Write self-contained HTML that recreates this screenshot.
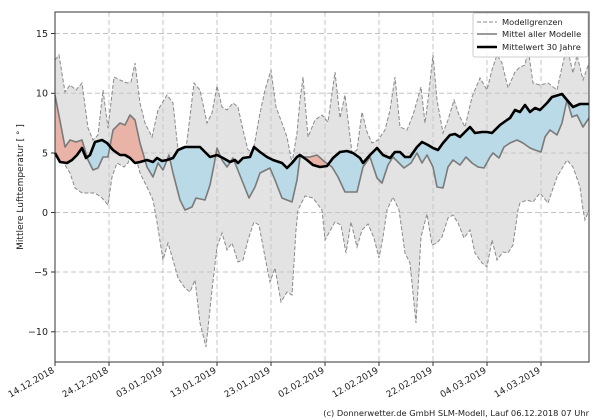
<!DOCTYPE html>
<html><head><meta charset="utf-8"><style>
body{margin:0;background:#fff;}
svg{display:block;font-family:"DejaVu Sans","Liberation Sans",sans-serif;}
</style></head><body>
<svg width="600" height="420" viewBox="0 0 600 420" xmlns="http://www.w3.org/2000/svg">
<defs>
<clipPath id="plot"><rect x="55" y="12" width="534" height="350"/></clipPath>
<clipPath id="above"><polygon points="55,0 55,153 60,162 67,163 72,160 77,155 82,148 86,158 90,155 95,142 102,140 107,143 113,150 120,155 125,155 130,158 135,163 140,162 147,160 153,162 157,158 162,161 167,160 173,158 178,150 185,147 200,147 205,152 210,157 217,155 223,158 230,162 235,160 238,163 243,158 250,157 254,147 260,152 267,157 273,160 282,163 287,168 292,163 297,157 300,155 307,160 313,165 320,167 327,166 333,158 340,152 347,151 353,153 360,158 363,163 370,155 377,148 383,155 390,158 395,152 400,152 405,157 410,157 417,147 422,142 428,145 433,148 438,150 443,143 450,135 455,134 460,137 465,132 470,127 475,133 482,132 487,132 492,133 500,125 507,120 510,118 515,110 520,112 525,105 530,112 535,108 540,110 547,103 552,97 562,94 567,100 573,107 580,104 589,104 589,0"/></clipPath>
<clipPath id="below"><polygon points="55,420 55,153 60,162 67,163 72,160 77,155 82,148 86,158 90,155 95,142 102,140 107,143 113,150 120,155 125,155 130,158 135,163 140,162 147,160 153,162 157,158 162,161 167,160 173,158 178,150 185,147 200,147 205,152 210,157 217,155 223,158 230,162 235,160 238,163 243,158 250,157 254,147 260,152 267,157 273,160 282,163 287,168 292,163 297,157 300,155 307,160 313,165 320,167 327,166 333,158 340,152 347,151 353,153 360,158 363,163 370,155 377,148 383,155 390,158 395,152 400,152 405,157 410,157 417,147 422,142 428,145 433,148 438,150 443,143 450,135 455,134 460,137 465,132 470,127 475,133 482,132 487,132 492,133 500,125 507,120 510,118 515,110 520,112 525,105 530,112 535,108 540,110 547,103 552,97 562,94 567,100 573,107 580,104 589,104 589,420"/></clipPath>
</defs>

<g clip-path="url(#plot)">
<polygon fill="#e3e3e3" stroke="none" points="55,60 59,55 65,92 70,85 76,90 82,83 88,128 93,140 98,135 103,90 108,128 114,77 120,80 127,83 131,82 135,63 140,103 145,123 152,137 158,110 167,95 173,103 178,150 183,170 188,133 194,83 200,90 207,123 212,113 217,86 222,107 227,110 233,103 238,107 243,130 248,150 253,152 260,113 265,90 271,70 276,107 282,123 287,137 292,163 297,133 300,100 303,77 308,137 315,120 322,115 328,122 335,72 340,118 345,95 352,153 357,150 362,112 367,132 372,143 378,140 385,130 390,110 395,77 400,127 407,130 413,115 421,87 425,123 428,100 433,55 437,100 443,133 448,120 454,100 459,115 465,127 472,97 480,78 487,90 492,70 497,55 502,63 508,88 515,72 520,67 525,65 528,48 533,83 540,85 548,83 557,90 562,67 567,47 573,73 577,55 583,80 589,63
589,210 585,220 583,210 580,187 573,167 567,160 557,177 548,203 540,193 533,202 527,200 520,203 518,210 513,245 508,253 503,252 497,260 492,240 487,267 482,263 475,253 470,230 464,238 458,223 453,215 448,218 442,237 437,243 432,245 427,214 421,237 416,323 410,263 405,253 399,210 393,197 387,210 383,237 379,258 374,238 368,224 362,230 357,247 351,222 346,253 341,225 335,222 325,240 322,210 313,198 305,196 298,210 296,230 292,295 287,292 281,302 275,268 270,282 265,257 259,225 254,222 248,240 243,260 238,262 232,243 227,250 222,233 217,247 212,290 206,347 200,323 195,280 190,292 185,288 178,278 173,260 168,243 163,260 157,222 153,200 147,187 140,173 133,147 128,163 124,167 117,163 112,177 108,205 102,198 95,193 88,193 82,193 75,188 70,173 65,165 60,140 55,100"/>
</g>
<g stroke="#c4c4c4" stroke-width="1" stroke-dasharray="5,3" fill="none">
<line x1="55" y1="33.5" x2="589" y2="33.5"/><line x1="55" y1="93.3" x2="589" y2="93.3"/><line x1="55" y1="153" x2="589" y2="153"/><line x1="55" y1="212.5" x2="589" y2="212.5"/><line x1="55" y1="272" x2="589" y2="272"/><line x1="55" y1="331.8" x2="589" y2="331.8"/>
<line x1="109" y1="12" x2="109" y2="362"/><line x1="163" y1="12" x2="163" y2="362"/><line x1="217" y1="12" x2="217" y2="362"/><line x1="271" y1="12" x2="271" y2="362"/><line x1="325" y1="12" x2="325" y2="362"/><line x1="379" y1="12" x2="379" y2="362"/><line x1="433" y1="12" x2="433" y2="362"/><line x1="487" y1="12" x2="487" y2="362"/><line x1="541" y1="12" x2="541" y2="362"/>
</g>
<g clip-path="url(#plot)">
<polyline fill="none" stroke="#8a8a8a" stroke-width="1" stroke-dasharray="4,2" points="55,60 59,55 65,92 70,85 76,90 82,83 88,128 93,140 98,135 103,90 108,128 114,77 120,80 127,83 131,82 135,63 140,103 145,123 152,137 158,110 167,95 173,103 178,150 183,170 188,133 194,83 200,90 207,123 212,113 217,86 222,107 227,110 233,103 238,107 243,130 248,150 253,152 260,113 265,90 271,70 276,107 282,123 287,137 292,163 297,133 300,100 303,77 308,137 315,120 322,115 328,122 335,72 340,118 345,95 352,153 357,150 362,112 367,132 372,143 378,140 385,130 390,110 395,77 400,127 407,130 413,115 421,87 425,123 428,100 433,55 437,100 443,133 448,120 454,100 459,115 465,127 472,97 480,78 487,90 492,70 497,55 502,63 508,88 515,72 520,67 525,65 528,48 533,83 540,85 548,83 557,90 562,67 567,47 573,73 577,55 583,80 589,63"/>
<polyline fill="none" stroke="#8a8a8a" stroke-width="1" stroke-dasharray="4,2" points="55,100 60,140 65,165 70,173 75,188 82,193 88,193 95,193 102,198 108,205 112,177 117,163 124,167 128,163 133,147 140,173 147,187 153,200 157,222 163,260 168,243 173,260 178,278 185,288 190,292 195,280 200,323 206,347 212,290 217,247 222,233 227,250 232,243 238,262 243,260 248,240 254,222 259,225 265,257 270,282 275,268 281,302 287,292 292,295 296,230 298,210 305,196 313,198 322,210 325,240 335,222 341,225 346,253 351,222 357,247 362,230 368,224 374,238 379,258 383,237 387,210 393,197 399,210 405,253 410,263 416,323 421,237 427,214 432,245 437,243 442,237 448,218 453,215 458,223 464,238 470,230 475,253 482,263 487,267 492,240 497,260 503,252 508,253 513,245 518,210 520,203 527,200 533,202 540,193 548,203 557,177 567,160 573,167 580,187 583,210 585,220 589,210"/>
</g>
<g>
<polygon clip-path="url(#above)" fill="#e9b3a7" stroke="none" points="55,95 65,147 70,140 76,142 82,140 88,160 93,170 98,168 103,157 108,157 113,130 120,123 125,125 130,115 135,120 140,143 147,167 153,177 158,163 163,170 169,155 173,173 180,200 185,210 192,207 196,198 205,200 210,185 214,165 217,148 222,160 227,167 233,158 237,168 243,183 249,198 255,187 260,173 270,168 275,180 282,198 287,200 292,202 297,180 300,157 310,157 317,155 325,162 332,167 338,177 345,192 352,192 357,192 363,167 370,157 377,178 382,183 388,165 393,157 399,163 404,168 411,163 417,153 422,163 427,155 433,167 437,187 443,188 448,167 453,160 460,165 466,157 472,163 478,167 484,168 490,157 493,153 499,158 504,147 510,143 517,140 523,143 530,148 535,150 541,152 545,137 550,130 557,135 562,123 567,100 572,117 577,115 583,127 589,118 589,104 580,104 573,107 567,100 562,94 552,97 547,103 540,110 535,108 530,112 525,105 520,112 515,110 510,118 507,120 500,125 492,133 487,132 482,132 475,133 470,127 465,132 460,137 455,134 450,135 443,143 438,150 433,148 428,145 422,142 417,147 410,157 405,157 400,152 395,152 390,158 383,155 377,148 370,155 363,163 360,158 353,153 347,151 340,152 333,158 327,166 320,167 313,165 307,160 300,155 297,157 292,163 287,168 282,163 273,160 267,157 260,152 254,147 250,157 243,158 238,163 235,160 230,162 223,158 217,155 210,157 205,152 200,147 185,147 178,150 173,158 167,160 162,161 157,158 153,162 147,160 140,162 135,163 130,158 125,155 120,155 113,150 107,143 102,140 95,142 90,155 86,158 82,148 77,155 72,160 67,163 60,162 55,153"/>
<polygon clip-path="url(#below)" fill="#b9dae6" stroke="none" points="55,95 65,147 70,140 76,142 82,140 88,160 93,170 98,168 103,157 108,157 113,130 120,123 125,125 130,115 135,120 140,143 147,167 153,177 158,163 163,170 169,155 173,173 180,200 185,210 192,207 196,198 205,200 210,185 214,165 217,148 222,160 227,167 233,158 237,168 243,183 249,198 255,187 260,173 270,168 275,180 282,198 287,200 292,202 297,180 300,157 310,157 317,155 325,162 332,167 338,177 345,192 352,192 357,192 363,167 370,157 377,178 382,183 388,165 393,157 399,163 404,168 411,163 417,153 422,163 427,155 433,167 437,187 443,188 448,167 453,160 460,165 466,157 472,163 478,167 484,168 490,157 493,153 499,158 504,147 510,143 517,140 523,143 530,148 535,150 541,152 545,137 550,130 557,135 562,123 567,100 572,117 577,115 583,127 589,118 589,104 580,104 573,107 567,100 562,94 552,97 547,103 540,110 535,108 530,112 525,105 520,112 515,110 510,118 507,120 500,125 492,133 487,132 482,132 475,133 470,127 465,132 460,137 455,134 450,135 443,143 438,150 433,148 428,145 422,142 417,147 410,157 405,157 400,152 395,152 390,158 383,155 377,148 370,155 363,163 360,158 353,153 347,151 340,152 333,158 327,166 320,167 313,165 307,160 300,155 297,157 292,163 287,168 282,163 273,160 267,157 260,152 254,147 250,157 243,158 238,163 235,160 230,162 223,158 217,155 210,157 205,152 200,147 185,147 178,150 173,158 167,160 162,161 157,158 153,162 147,160 140,162 135,163 130,158 125,155 120,155 113,150 107,143 102,140 95,142 90,155 86,158 82,148 77,155 72,160 67,163 60,162 55,153"/>
</g>
<polyline fill="none" stroke="#7a7a7a" stroke-width="1.6" stroke-linejoin="round" points="55,95 65,147 70,140 76,142 82,140 88,160 93,170 98,168 103,157 108,157 113,130 120,123 125,125 130,115 135,120 140,143 147,167 153,177 158,163 163,170 169,155 173,173 180,200 185,210 192,207 196,198 205,200 210,185 214,165 217,148 222,160 227,167 233,158 237,168 243,183 249,198 255,187 260,173 270,168 275,180 282,198 287,200 292,202 297,180 300,157 310,157 317,155 325,162 332,167 338,177 345,192 352,192 357,192 363,167 370,157 377,178 382,183 388,165 393,157 399,163 404,168 411,163 417,153 422,163 427,155 433,167 437,187 443,188 448,167 453,160 460,165 466,157 472,163 478,167 484,168 490,157 493,153 499,158 504,147 510,143 517,140 523,143 530,148 535,150 541,152 545,137 550,130 557,135 562,123 567,100 572,117 577,115 583,127 589,118"/>
<polyline fill="none" stroke="#000" stroke-width="2.6" stroke-linejoin="round" points="55,153 60,162 67,163 72,160 77,155 82,148 86,158 90,155 95,142 102,140 107,143 113,150 120,155 125,155 130,158 135,163 140,162 147,160 153,162 157,158 162,161 167,160 173,158 178,150 185,147 200,147 205,152 210,157 217,155 223,158 230,162 235,160 238,163 243,158 250,157 254,147 260,152 267,157 273,160 282,163 287,168 292,163 297,157 300,155 307,160 313,165 320,167 327,166 333,158 340,152 347,151 353,153 360,158 363,163 370,155 377,148 383,155 390,158 395,152 400,152 405,157 410,157 417,147 422,142 428,145 433,148 438,150 443,143 450,135 455,134 460,137 465,132 470,127 475,133 482,132 487,132 492,133 500,125 507,120 510,118 515,110 520,112 525,105 530,112 535,108 540,110 547,103 552,97 562,94 567,100 573,107 580,104 589,104"/>

<rect x="55" y="12" width="534" height="350" fill="none" stroke="#333" stroke-width="1"/>
<g stroke="#333" stroke-width="1">
<line x1="51" y1="33.5" x2="55" y2="33.5"/><line x1="51" y1="93.3" x2="55" y2="93.3"/><line x1="51" y1="153" x2="55" y2="153"/><line x1="51" y1="212.5" x2="55" y2="212.5"/><line x1="51" y1="272" x2="55" y2="272"/><line x1="51" y1="331.8" x2="55" y2="331.8"/>
<line x1="55" y1="362" x2="55" y2="366"/><line x1="109" y1="362" x2="109" y2="366"/><line x1="163" y1="362" x2="163" y2="366"/><line x1="217" y1="362" x2="217" y2="366"/><line x1="271" y1="362" x2="271" y2="366"/><line x1="325" y1="362" x2="325" y2="366"/><line x1="379" y1="362" x2="379" y2="366"/><line x1="433" y1="362" x2="433" y2="366"/><line x1="487" y1="362" x2="487" y2="366"/><line x1="541" y1="362" x2="541" y2="366"/>
</g>
<g font-size="9.5" fill="#222" text-anchor="end">
<text x="48" y="37">15</text><text x="48" y="96.5">10</text><text x="48" y="156.5">5</text><text x="48" y="216">0</text><text x="48" y="275.5">−5</text><text x="48" y="335">−10</text>
</g>
<text transform="translate(23,187) rotate(-90)" font-size="9" fill="#222" text-anchor="middle">Mittlere Lufttemperatur [ ° ]</text>
<g font-size="9" fill="#222" text-anchor="end">
<text transform="translate(55,372) rotate(-30)">14.12.2018</text>
<text transform="translate(109,372) rotate(-30)">24.12.2018</text>
<text transform="translate(163,372) rotate(-30)">03.01.2019</text>
<text transform="translate(217,372) rotate(-30)">13.01.2019</text>
<text transform="translate(271,372) rotate(-30)">23.01.2019</text>
<text transform="translate(325,372) rotate(-30)">02.02.2019</text>
<text transform="translate(379,372) rotate(-30)">12.02.2019</text>
<text transform="translate(433,372) rotate(-30)">22.02.2019</text>
<text transform="translate(487,372) rotate(-30)">04.03.2019</text>
<text transform="translate(541,372) rotate(-30)">14.03.2019</text>
</g>
<rect x="473" y="13" width="115" height="44" rx="2" fill="#fff" fill-opacity="0.85" stroke="#ccc"/>
<line x1="477" y1="22" x2="497" y2="22" stroke="#8a8a8a" stroke-width="1" stroke-dasharray="4,2"/>
<line x1="477" y1="34" x2="497" y2="34" stroke="#7a7a7a" stroke-width="1.6"/>
<line x1="477" y1="47" x2="497" y2="47" stroke="#000" stroke-width="2.6"/>
<g font-size="8.3" fill="#222">
<text x="502" y="25">Modellgrenzen</text>
<text x="502" y="37">Mittel aller Modelle</text>
<text x="502" y="50">Mittelwert 30 Jahre</text>
</g>
<text x="589" y="416" font-size="8.3" fill="#222" text-anchor="end">(c) Donnerwetter.de GmbH SLM-Modell, Lauf 06.12.2018 07 Uhr</text>
</svg>
</body></html>
